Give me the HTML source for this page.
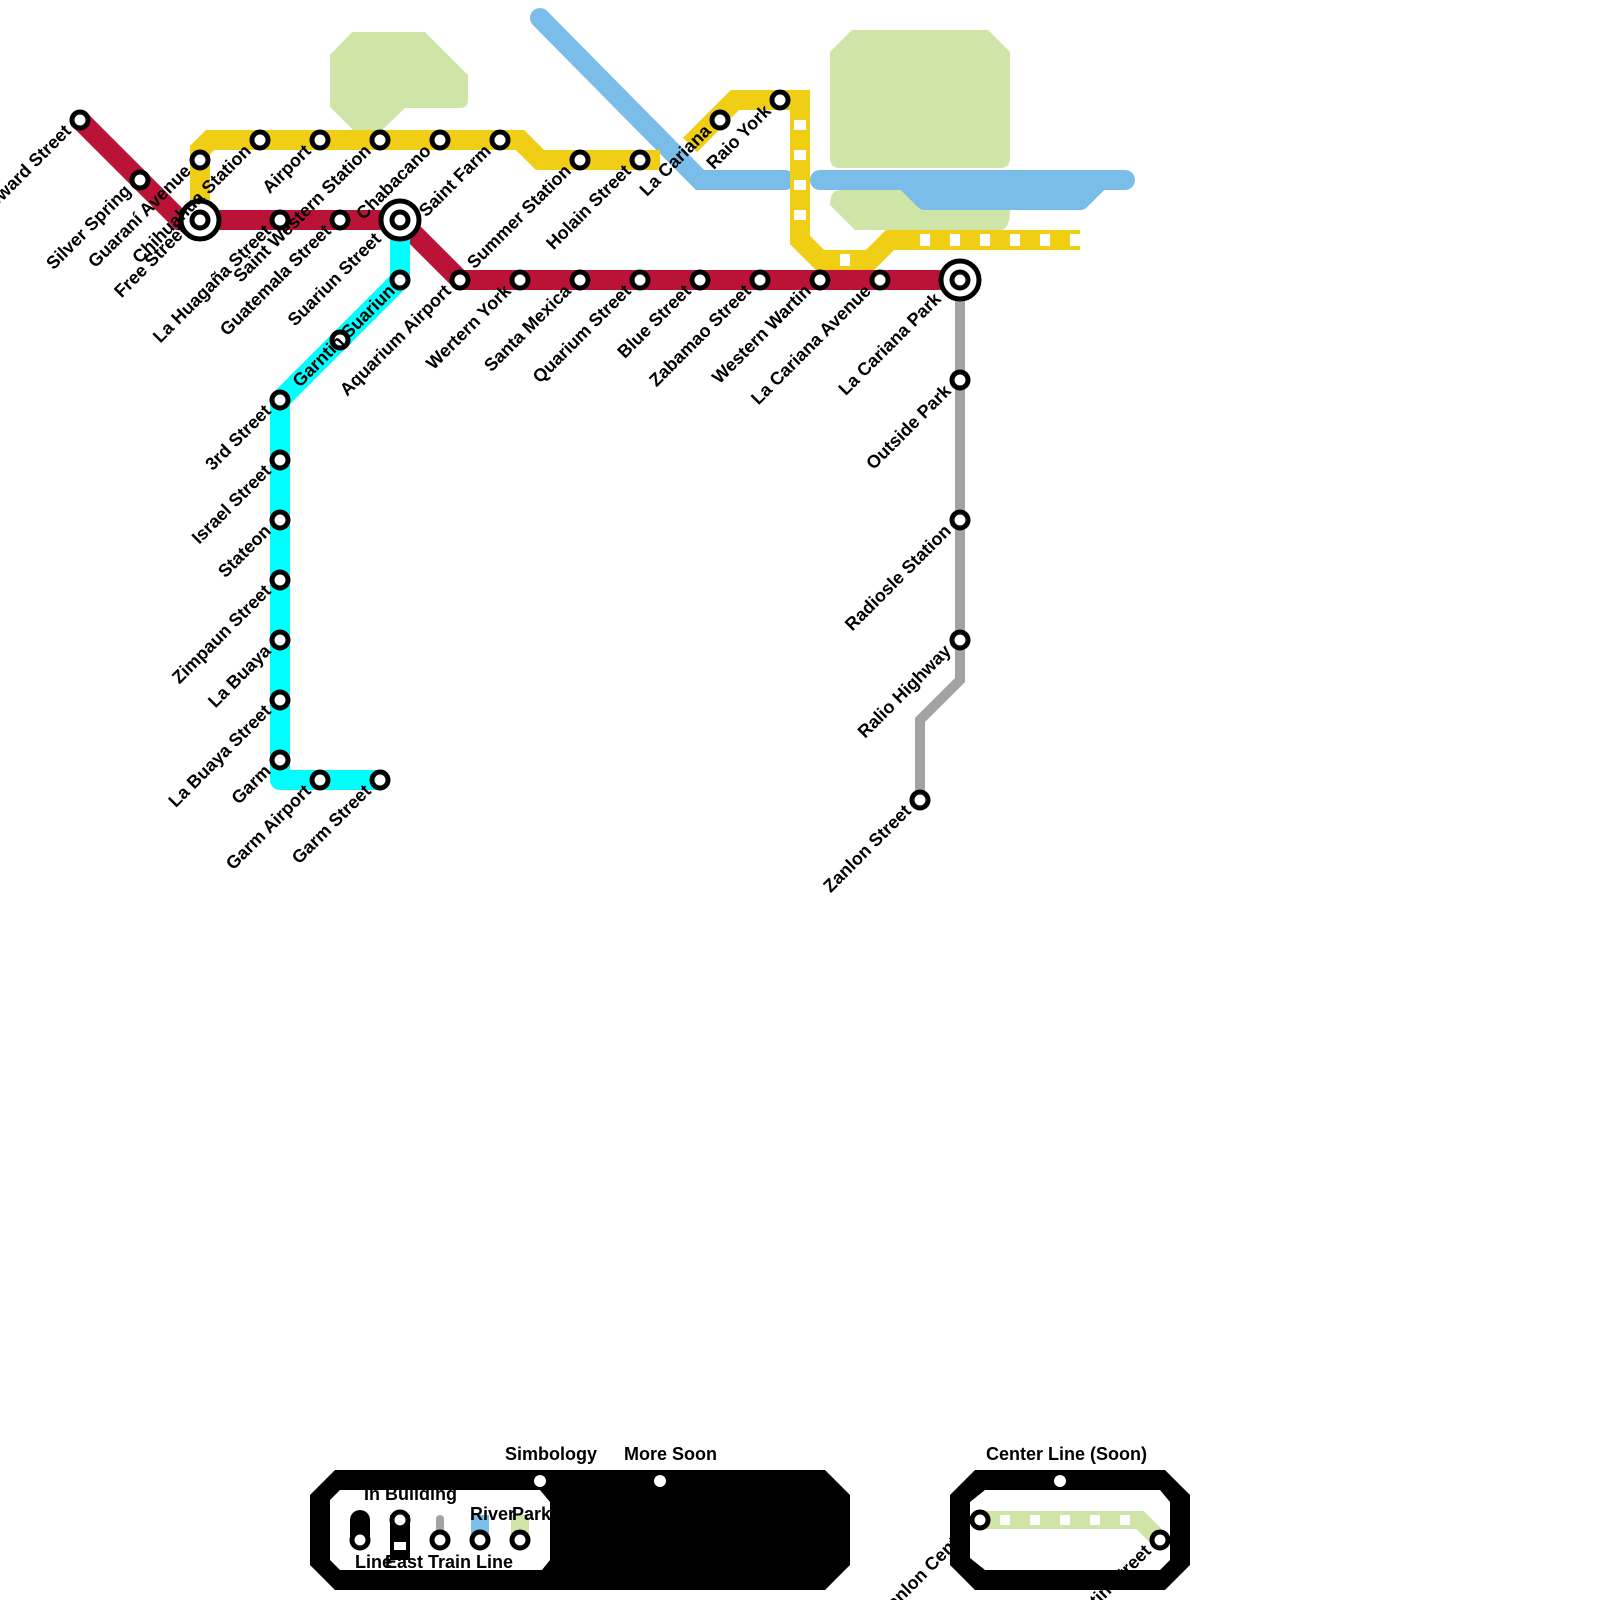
<!DOCTYPE html>
<html><head><meta charset="utf-8"><style>
html,body{margin:0;padding:0;background:#fff}
svg{display:block}
text{font-family:"Liberation Sans",sans-serif;font-weight:bold;font-size:18px;fill:#000}
.st{fill:#fff;stroke:#000;stroke-width:5}
</style></head><body>
<svg width="1600" height="1600" viewBox="0 0 1600 1600" xmlns="http://www.w3.org/2000/svg">
<path d="M352,32 L425,32 L468,75 L468,100 Q468,108 460,108 L405,108 L380,132 L355,132 L330,107 L330,55 Z" fill="#cfe4a7"/>
<path d="M852,30 L988,30 L1010,52 L1010,158 Q1010,168 1000,168 L840,168 Q830,168 830,158 L830,52 Z" fill="#cfe4a7"/>
<path d="M840,190 L1000,190 Q1010,190 1010,210 Q1010,230 1000,230 L855,230 L830,205 Q830,190 840,190 Z" fill="#cfe4a7"/>
<g stroke="#79bde8" stroke-width="20" stroke-linecap="round" fill="none">
<polyline points="540,18 700,180 785,180"/>
<line x1="820" y1="180" x2="1125" y2="180"/>
</g>
<path d="M905,180 L1100,180 L1080,200 L925,200 Z" fill="#79bde8" stroke="#79bde8" stroke-width="20" stroke-linejoin="round"/>
<g stroke="#f0ce15" stroke-width="20" fill="none">
<polyline points="200,225 200,150 210,140 520,140 540,160 660,160"/>
<polyline points="690,145 735,100 800,100 800,240 820,260 870,260 890,240 1080,240"/>
</g>
<g stroke="#fff" stroke-width="12" stroke-dasharray="10,20" fill="none">
<line x1="800" y1="120" x2="800" y2="230"/>
<line x1="840" y1="260" x2="870" y2="260"/>
<line x1="920" y1="240" x2="1080" y2="240"/>
</g>
<polyline points="80,120 180,220 400,220 460,280 960,280" stroke="#bb1238" stroke-width="20" fill="none"/>
<polyline points="400,220 400,280 280,400 280,780 380,780" stroke="#00ffff" stroke-width="20" fill="none" stroke-linejoin="round"/>
<polyline points="960,280 960,680 920,720 920,800" stroke="#a3a3a3" stroke-width="10" fill="none"/>
<g>
<circle class="st" cx="80" cy="120" r="8"/><circle class="st" cx="140" cy="180" r="8"/>
<circle class="st" cx="280" cy="220" r="8"/><circle class="st" cx="340" cy="220" r="8"/>
<circle class="st" cx="200" cy="160" r="8"/><circle class="st" cx="260" cy="140" r="8"/>
<circle class="st" cx="320" cy="140" r="8"/><circle class="st" cx="380" cy="140" r="8"/>
<circle class="st" cx="440" cy="140" r="8"/><circle class="st" cx="500" cy="140" r="8"/>
<circle class="st" cx="580" cy="160" r="8"/><circle class="st" cx="640" cy="160" r="8"/>
<circle class="st" cx="720" cy="120" r="8"/><circle class="st" cx="780" cy="100" r="8"/>
<circle class="st" cx="460" cy="280" r="8"/><circle class="st" cx="520" cy="280" r="8"/>
<circle class="st" cx="580" cy="280" r="8"/><circle class="st" cx="640" cy="280" r="8"/>
<circle class="st" cx="700" cy="280" r="8"/><circle class="st" cx="760" cy="280" r="8"/>
<circle class="st" cx="820" cy="280" r="8"/><circle class="st" cx="880" cy="280" r="8"/>
<circle class="st" cx="400" cy="280" r="8"/><circle class="st" cx="340" cy="340" r="8"/>
<circle class="st" cx="280" cy="400" r="8"/><circle class="st" cx="280" cy="460" r="8"/>
<circle class="st" cx="280" cy="520" r="8"/><circle class="st" cx="280" cy="580" r="8"/>
<circle class="st" cx="280" cy="640" r="8"/><circle class="st" cx="280" cy="700" r="8"/>
<circle class="st" cx="280" cy="760" r="8"/><circle class="st" cx="320" cy="780" r="8"/>
<circle class="st" cx="380" cy="780" r="8"/>
<circle class="st" cx="960" cy="380" r="8"/><circle class="st" cx="960" cy="520" r="8"/>
<circle class="st" cx="960" cy="640" r="8"/><circle class="st" cx="920" cy="800" r="8"/>
<circle class="st" cx="200" cy="220" r="19"/><circle class="st" cx="200" cy="220" r="8"/>
<circle class="st" cx="400" cy="220" r="19"/><circle class="st" cx="400" cy="220" r="8"/>
<circle class="st" cx="960" cy="280" r="19"/><circle class="st" cx="960" cy="280" r="8"/>
</g>
<g text-anchor="end">
<text transform="translate(72,132) rotate(-45)">Howard Street</text>
<text transform="translate(132,192) rotate(-45)">Silver Spring</text>
<text transform="translate(192,172) rotate(-45)">Guaraní Avenue</text>
<text transform="translate(252,152) rotate(-45)">Chihuahua Station</text>
<text transform="translate(188,232) rotate(-45)">Free Street</text>
<text transform="translate(312,152) rotate(-45)">Airport</text>
<text transform="translate(372,152) rotate(-45)">Saint Western Station</text>
<text transform="translate(432,152) rotate(-45)">Chabacano</text>
<text transform="translate(492,152) rotate(-45)">Saint Farm</text>
<text transform="translate(572,172) rotate(-45)">Summer Station</text>
<text transform="translate(632,172) rotate(-45)">Holain Street</text>
<text transform="translate(712,132) rotate(-45)">La Cariana</text>
<text transform="translate(772,112) rotate(-45)">Raio York</text>
<text transform="translate(272,232) rotate(-45)">La Huagaña Street</text>
<text transform="translate(332,232) rotate(-45)">Guatemala Street</text>
<text transform="translate(382,240) rotate(-45)">Suariun Street</text>
<text transform="translate(452,292) rotate(-45)">Aquarium Airport</text>
<text transform="translate(512,292) rotate(-45)">Wertern York</text>
<text transform="translate(572,292) rotate(-45)">Santa Mexica</text>
<text transform="translate(632,292) rotate(-45)">Quarium Street</text>
<text transform="translate(692,292) rotate(-45)">Blue Street</text>
<text transform="translate(752,292) rotate(-45)">Zabamao Street</text>
<text transform="translate(812,292) rotate(-45)">Western Wartin</text>
<text transform="translate(872,292) rotate(-45)">La Cariana Avenue</text>
<text transform="translate(942,300) rotate(-45)">La Cariana Park</text>
<text transform="translate(396,292) rotate(-45)">Garntin Suariun</text>
<text transform="translate(272,412) rotate(-45)">3rd Street</text>
<text transform="translate(272,472) rotate(-45)">Israel Street</text>
<text transform="translate(272,532) rotate(-45)">Stateon</text>
<text transform="translate(272,592) rotate(-45)">Zimpaun Street</text>
<text transform="translate(272,652) rotate(-45)">La Buaya</text>
<text transform="translate(272,712) rotate(-45)">La Buaya Street</text>
<text transform="translate(272,772) rotate(-45)">Garm</text>
<text transform="translate(312,792) rotate(-45)">Garm Airport</text>
<text transform="translate(372,792) rotate(-45)">Garm Street</text>
<text transform="translate(952,392) rotate(-45)">Outside Park</text>
<text transform="translate(952,532) rotate(-45)">Radiosle Station</text>
<text transform="translate(952,652) rotate(-45)">Ralio Highway</text>
<text transform="translate(912,812) rotate(-45)">Zanlon Street</text>
</g>
<path d="M335,1470 L825,1470 L850,1495 L850,1565 L825,1590 L335,1590 L310,1565 L310,1495 Z" fill="#000"/>
<path d="M340,1490 L540,1490 L550,1502 L550,1560 L542,1570 L340,1570 L330,1560 L330,1500 Z" fill="#fff"/>
<rect x="350" y="1510" width="20" height="35" rx="10" fill="#000"/>
<circle class="st" cx="360" cy="1540" r="8"/>
<rect x="390" y="1515" width="20" height="45" fill="#000"/><rect x="394" y="1542" width="12" height="8" fill="#fff"/>
<circle class="st" cx="400" cy="1520" r="8"/>
<rect x="436" y="1515" width="8" height="20" rx="4" fill="#a3a3a3"/><circle class="st" cx="440" cy="1540" r="8"/>
<rect x="471" y="1515" width="18" height="20" fill="#79bde8"/><circle class="st" cx="480" cy="1540" r="8"/>
<rect x="511" y="1515" width="18" height="20" fill="#cfe4a7"/><circle class="st" cx="520" cy="1540" r="8"/>
<text x="364" y="1500">In Building</text>
<text x="470" y="1520">River</text><text x="512" y="1520">Park</text>
<text x="355" y="1568">Line</text><text x="385" y="1568">East Train Line</text>
<circle cx="540" cy="1481" r="6" fill="#fff"/><circle cx="660" cy="1481" r="6" fill="#fff"/>
<text x="505" y="1460">Simbology</text><text x="624" y="1460">More Soon</text>
<path d="M975,1470 L1165,1470 L1190,1495 L1190,1565 L1165,1590 L975,1590 L950,1565 L950,1495 Z" fill="#000"/>
<path d="M985,1490 L1160,1490 L1170,1502 L1170,1560 L1160,1570 L985,1570 L970,1558 L970,1502 Z" fill="#fff"/>
<polyline points="980,1520 1140,1520 1160,1540" stroke="#cfe4a7" stroke-width="18" fill="none"/>
<line x1="1000" y1="1520" x2="1140" y2="1520" stroke="#fff" stroke-width="10" stroke-dasharray="10,20"/>
<circle class="st" cx="980" cy="1520" r="8"/><circle class="st" cx="1160" cy="1540" r="8"/>
<circle cx="1060" cy="1481" r="6" fill="#fff"/>
<text x="986" y="1460">Center Line (Soon)</text>
<g text-anchor="end"><text transform="translate(972,1532) rotate(-45)">Zanlon Center</text>
<text transform="translate(1152,1552) rotate(-45)">Wartin Street</text></g>
</svg>
</body></html>
